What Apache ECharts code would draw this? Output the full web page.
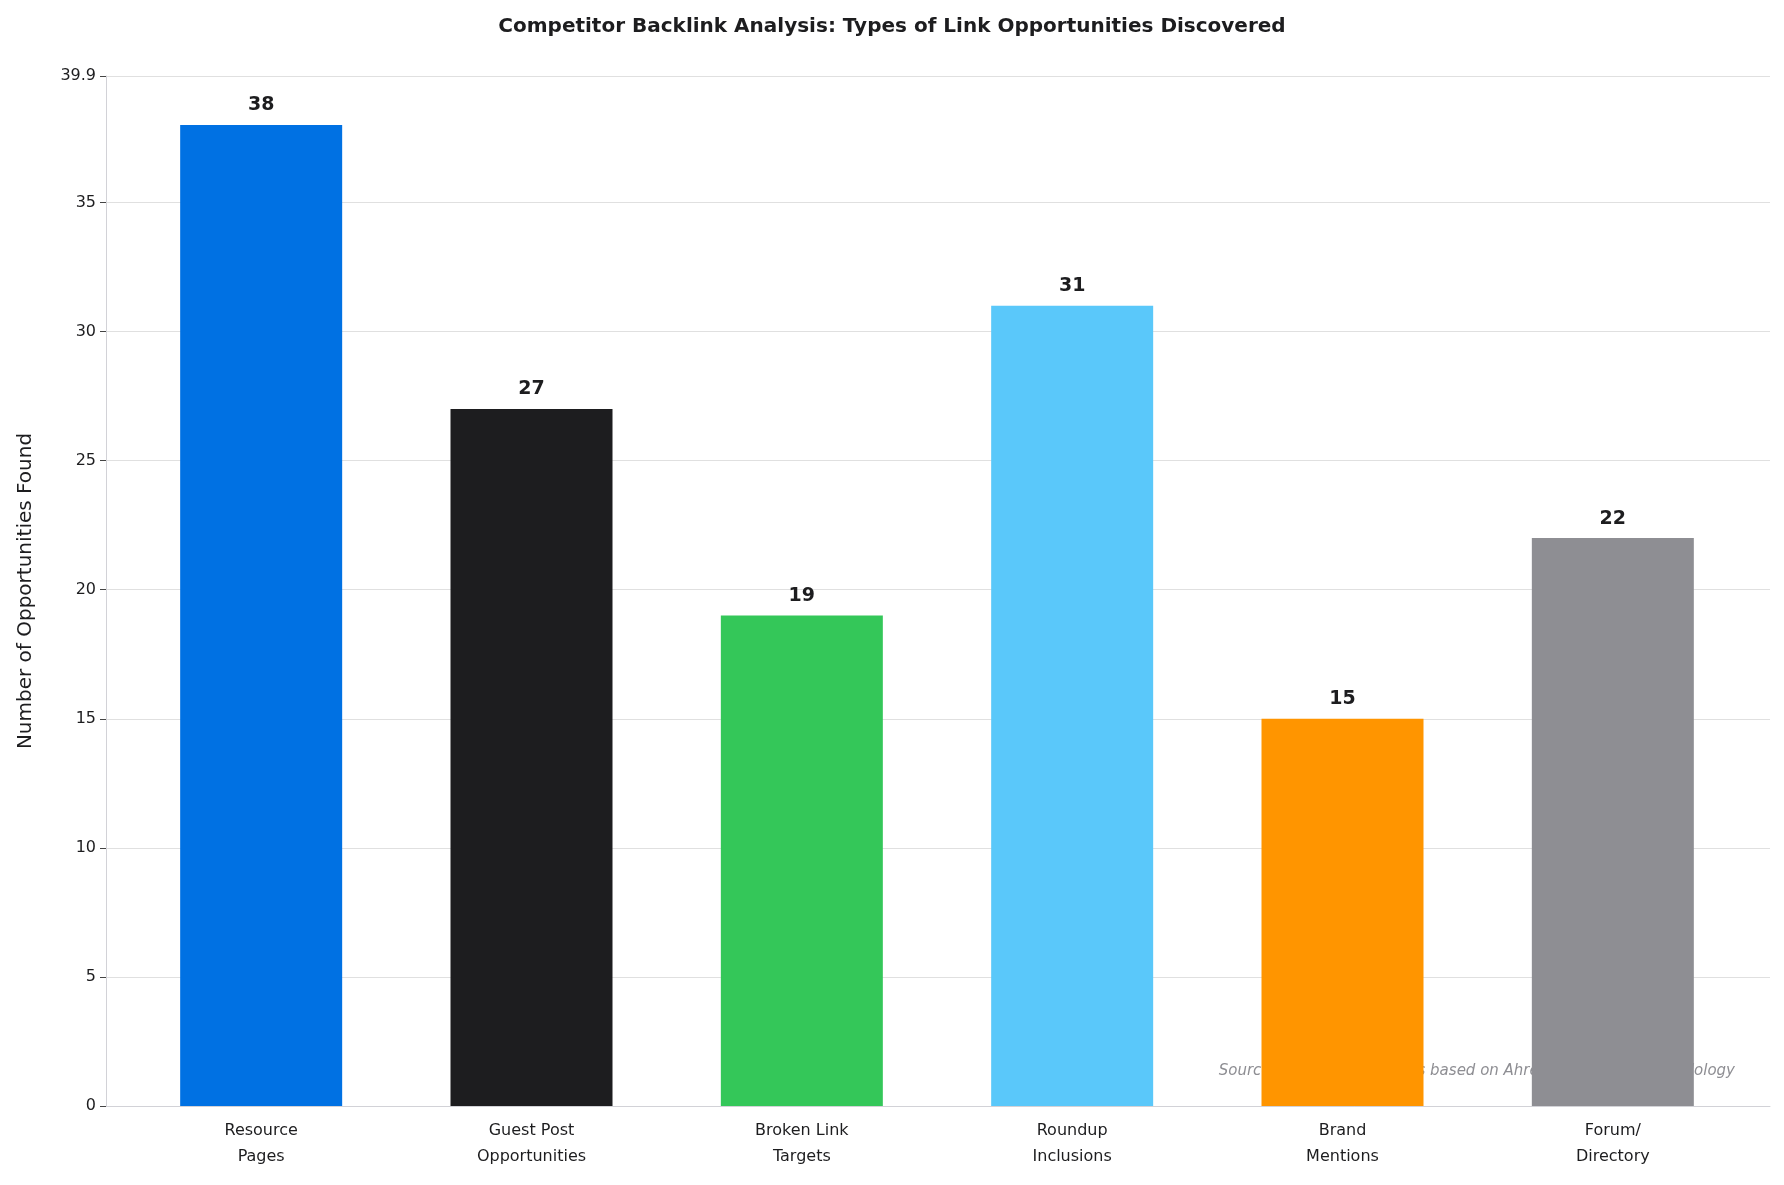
<!DOCTYPE html>
<html>
<head>
<meta charset="utf-8">
<script src="https://cdn.jsdelivr.net/npm/echarts@6/dist/echarts.min.js"></script>
<style>html,body{margin:0;padding:0;background:#fff}#chart{width:1784px;height:1185px}</style>
</head>
<body>
<div id="chart"></div>
<script>
const categories = ['Resource\nPages', 'Guest Post\nOpportunities', 'Broken Link\nTargets', 'Roundup\nInclusions', 'Brand\nMentions', 'Forum/\nDirectory']
const values = [38, 27, 19, 31, 15, 22]
const colors = ['#0071e3', '#1d1d1f', '#34c759', '#5ac8fa', '#ff9500', '#8e8e93']

const chart = echarts.init(document.getElementById('chart'))
const font = 'DejaVu Sans'
chart.setOption({
  textStyle: { fontFamily: font },
  title: {
    text: 'Competitor Backlink Analysis: Types of Link Opportunities Discovered',
    left: 'center', top: 12,
    textStyle: { fontSize: 20, fontWeight: 'bold', color: '#1d1d1f', fontFamily: font }
  },
  graphic: [{
    type: 'text', right: 49, top: 1064,
    style: { text: 'Source: Illustrative analysis based on Ahrefs / SEMrush methodology', fill: '#8e8e93',
      font: 'italic 15px DejaVu Sans' }
  }],
  grid: [
    { left: 106, right: 14, top: 76, bottom: 79 },
    { left: 126, right: 36, top: 76, bottom: 79 }
  ],
  xAxis: [
    { gridIndex: 0, type: 'value', min: 0, max: 1, show: true, axisLabel: { show: false }, axisTick: { show: false },
      splitLine: { show: false }, axisLine: { show: true, lineStyle: { color: '#d2d2d7' } } },
    { gridIndex: 1, type: 'category', data: categories,
      axisLine: { show: false },
      axisTick: { alignWithLabel: true, length: 6, lineStyle: { color: '#444' } },
      axisLabel: { fontSize: 16, color: '#1d1d1f', lineHeight: 26, margin: 12 } }
  ],
  yAxis: [
    { gridIndex: 0, type: 'value', min: 0, max: 39.9, interval: 5,
      name: 'Number of Opportunities Found', nameLocation: 'middle', nameGap: 70,
      nameTextStyle: { fontSize: 20, color: '#1d1d1f' },
      axisLine: { show: true, lineStyle: { color: '#d2d2d7' } },
      axisTick: { show: true, length: 6, lineStyle: { color: '#444' } },
      axisLabel: { fontSize: 16, color: '#1d1d1f', margin: 10 },
      splitLine: { lineStyle: { color: '#e0e0e0', width: 1.2 } } },
    { gridIndex: 1, type: 'value', min: 0, max: 39.9, interval: 5, show: false, splitLine: { show: false } }
  ],
  series: [{
    type: 'bar', xAxisIndex: 1, yAxisIndex: 1, barWidth: 162,
    data: values.map((v, i) => ({ value: v, itemStyle: { color: colors[i] } })),
    label: { show: true, position: 'top', distance: 10, fontSize: 19, fontWeight: 'bold', color: '#1d1d1f' }
  }]
})
</script>
</body>
</html>
